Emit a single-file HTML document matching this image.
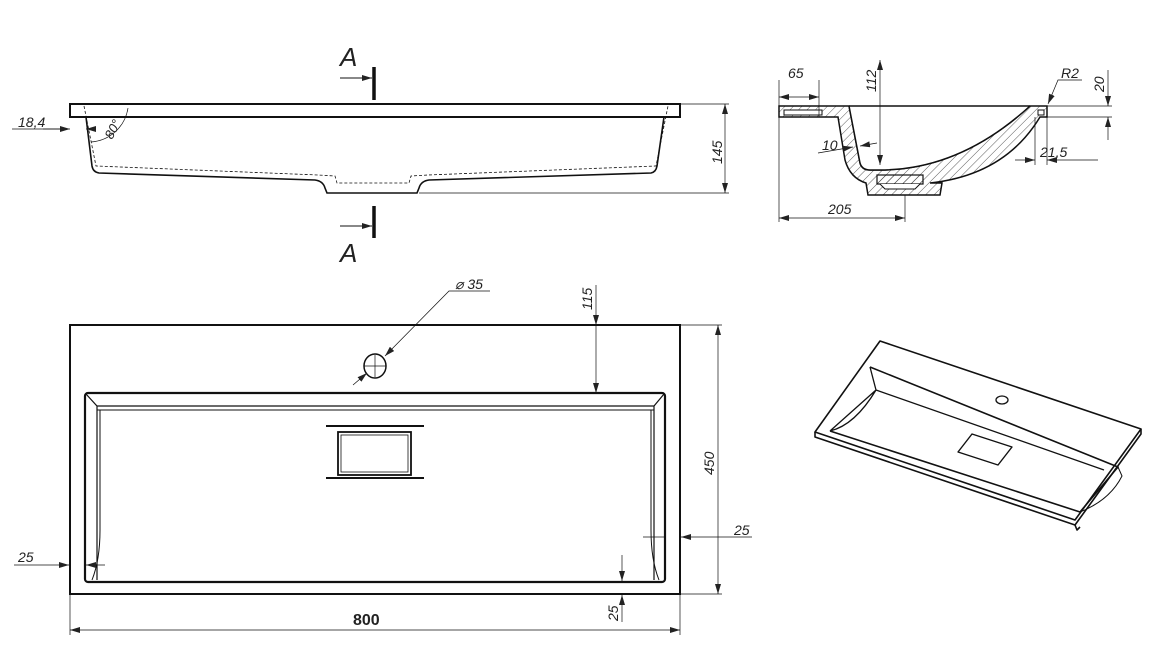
<!DOCTYPE html>
<html><head><meta charset="utf-8"><style>
html,body{margin:0;padding:0;background:#fff;}
svg{display:block;}
text{font-family:"Liberation Sans",sans-serif;font-style:italic;fill:#222;}
</style></head><body>
<svg width="1153" height="651" viewBox="0 0 1153 651" xmlns="http://www.w3.org/2000/svg">
<defs>
<marker id="a" viewBox="0 0 10 6" refX="10" refY="3" markerWidth="10" markerHeight="6" orient="auto-start-reverse" markerUnits="userSpaceOnUse"><path d="M0,0 L10,3 L0,6 z" fill="#222"/></marker>
<pattern id="h" width="6" height="6" patternUnits="userSpaceOnUse" patternTransform="rotate(45)"><line x1="0" y1="0" x2="0" y2="6" stroke="#333" stroke-width="0.8"/></pattern>
</defs>
<g fill="none" stroke="#111">
<rect x="70" y="104" width="610" height="13" stroke-width="2"/>
<path d="M86,117 L92,166 Q93,172 99,173 L315,180 Q323,181 325,188 L327,193 L417,193 L419,188 Q421,181 429,180 L651,173 Q656,172 657,166 L664,117" stroke-width="1.6"/>
<path d="M84,106 L96,166 L318,175 L335,176 L337,183 L409,183 L411,176 L428,175 L656,166 L668,106" stroke-width="0.8" stroke-dasharray="3,2"/>
<line x1="374" y1="67" x2="374" y2="100" stroke-width="3.5"/>
<line x1="340" y1="78" x2="372" y2="78" stroke-width="1" marker-end="url(#a)"/>
<line x1="374" y1="206" x2="374" y2="238" stroke-width="3.5"/>
<line x1="340" y1="226" x2="372" y2="226" stroke-width="1" marker-end="url(#a)"/>
<g stroke-width="0.7">
<line x1="680" y1="104" x2="729" y2="104"/><line x1="419" y1="193" x2="729" y2="193"/>
<line x1="725" y1="104" x2="725" y2="193" marker-start="url(#a)" marker-end="url(#a)"/>
<line x1="12" y1="129" x2="60" y2="129"/>
<line x1="43" y1="129" x2="70" y2="129" marker-end="url(#a)"/>
<line x1="96" y1="129" x2="86" y2="129" marker-end="url(#a)"/>
<path d="M91,142 A40,40 0 0 0 128,108" />
</g>
</g>
<text x="340" y="66" font-size="26">A</text>
<text x="340" y="262" font-size="26">A</text>
<text x="18" y="127" font-size="14">18,4</text>
<text transform="translate(112,140) rotate(-62)" font-size="13">80°</text>
<text transform="translate(722,164) rotate(-90)" font-size="14">145</text>

<g stroke="#111" stroke-width="1.5">
<path d="M779,106 L849,106 L860,163 Q862,170 870,170 L880,170 Q960,170 1030,106 L1047,106 L1047,117 L1040,117 Q1005,175 930,183 L942,183 L940,195 L868,195 L866,183 Q850,178 845,160 L838,117 L779,117 Z" fill="url(#h)"/>
<path d="M849,106 L860,163 Q862,170 870,170 L880,170 Q960,170 1030,106 Z" fill="#fff" stroke="none"/>
<path d="M849,106 L1030,106 M849,106 L860,163 Q862,170 870,170 L880,170 Q960,170 1030,106" fill="none"/>
<rect x="784" y="110" width="38" height="5" fill="#fff" stroke-width="1"/>
<rect x="1038" y="110" width="6" height="5" fill="#fff" stroke-width="1"/>
<rect x="877" y="175" width="46" height="9" fill="url(#h)" stroke-width="1.2"/>
<path d="M880,184 L885,189 L915,189 L920,184" fill="#fff" stroke-width="1"/>
</g>
<g fill="none" stroke="#111" stroke-width="0.7">
<line x1="779" y1="80" x2="779" y2="222"/><line x1="819" y1="80" x2="819" y2="117"/>
<line x1="779" y1="97" x2="819" y2="97" marker-start="url(#a)" marker-end="url(#a)"/>
<line x1="880" y1="60" x2="880" y2="165" marker-start="url(#a)" marker-end="url(#a)"/>
<path d="M1082,80 L1058,80 L1048,104" marker-end="url(#a)"/>
<line x1="1047" y1="106" x2="1112" y2="106"/><line x1="1047" y1="117" x2="1112" y2="117"/>
<line x1="1108" y1="70" x2="1108" y2="106" marker-end="url(#a)"/>
<line x1="1108" y1="140" x2="1108" y2="117" marker-end="url(#a)"/>
<line x1="1035" y1="117" x2="1035" y2="165"/><line x1="1047" y1="117" x2="1047" y2="165"/>
<line x1="1015" y1="160" x2="1035" y2="160" marker-end="url(#a)"/>
<line x1="1098" y1="160" x2="1047" y2="160" marker-end="url(#a)"/>
<line x1="818" y1="153" x2="853" y2="147" marker-end="url(#a)"/>
<line x1="877" y1="143" x2="860" y2="146" marker-end="url(#a)"/>
<line x1="905" y1="195" x2="905" y2="222"/>
<line x1="779" y1="218" x2="905" y2="218" marker-start="url(#a)" marker-end="url(#a)"/>
</g>
<text x="788" y="78" font-size="14">65</text>
<text transform="translate(876,92) rotate(-90)" font-size="14">112</text>
<text x="1061" y="78" font-size="14">R2</text>
<text transform="translate(1104,92) rotate(-90)" font-size="14">20</text>
<text x="1040" y="157" font-size="14">21,5</text>
<text x="822" y="150" font-size="14">10</text>
<text x="828" y="214" font-size="14">205</text>

<g fill="none" stroke="#111">
<rect x="70" y="325" width="610" height="269" stroke-width="2"/>
<rect x="85" y="393" width="580" height="189" rx="3" stroke-width="2.2"/>
<path d="M86,394 L97,406 L654,406 L664,394 M97,406 L97,580 M654,406 L654,580" stroke-width="1.2"/>
<line x1="97" y1="410" x2="654" y2="410" stroke-width="1"/>
<path d="M100,410 L100,530 Q100,560 92,580 M651,410 L651,530 Q651,560 659,580" stroke-width="1"/>
<rect x="338" y="432" width="73" height="43" stroke-width="1.8"/>
<rect x="341" y="435" width="67" height="37" stroke-width="0.8"/>
<line x1="326" y1="426" x2="424" y2="426" stroke-width="2"/>
<line x1="326" y1="478" x2="424" y2="478" stroke-width="2"/>
<ellipse cx="375" cy="366" rx="11" ry="12" stroke-width="1.5"/>
</g>
<g fill="none" stroke="#111" stroke-width="0.7">
<line x1="364" y1="366" x2="386" y2="366"/><line x1="375" y1="355" x2="375" y2="377"/>
<path d="M490,291 L449,291 L385,356" marker-end="url(#a)"/>
<line x1="353" y1="385" x2="367" y2="373" marker-end="url(#a)"/>
<line x1="596" y1="285" x2="596" y2="325" marker-end="url(#a)"/>
<line x1="596" y1="325" x2="596" y2="393" marker-end="url(#a)"/>
<line x1="680" y1="325" x2="722" y2="325"/><line x1="680" y1="594" x2="722" y2="594"/>
<line x1="718" y1="325" x2="718" y2="594" marker-start="url(#a)" marker-end="url(#a)"/>
<line x1="643" y1="537" x2="665" y2="537"/>
<line x1="752" y1="537" x2="681" y2="537" marker-end="url(#a)"/>
<line x1="14" y1="565" x2="69" y2="565" marker-end="url(#a)"/>
<line x1="105" y1="565" x2="86" y2="565" marker-end="url(#a)"/>
<line x1="622" y1="555" x2="622" y2="581" marker-end="url(#a)"/>
<line x1="622" y1="622" x2="622" y2="595" marker-end="url(#a)"/>
<line x1="70" y1="594" x2="70" y2="635"/><line x1="680" y1="594" x2="680" y2="635"/>
<line x1="70" y1="630" x2="680" y2="630" marker-start="url(#a)" marker-end="url(#a)"/>
</g>
<text x="455" y="289" font-size="14">⌀ 35</text>
<text transform="translate(592,310) rotate(-90)" font-size="14">115</text>
<text transform="translate(714,475) rotate(-90)" font-size="14">450</text>
<text x="734" y="535" font-size="14">25</text>
<text x="18" y="562" font-size="14">25</text>
<text transform="translate(618,621) rotate(-90)" font-size="14">25</text>
<text x="353" y="625" font-size="16" font-weight="bold" style="font-style:normal">800</text>

<g fill="none" stroke="#111" stroke-width="1.6" stroke-linejoin="round">
<path d="M880,341 L1141,429 L1075,520 L815,432 Z"/>
<path d="M815,432 L815,437 L1075,525 L1141,434 L1141,429"/>
<path d="M1075,525 L1077,530 L1080,527"/>
<path d="M870,367 L1118,467 L1080,512 L830,431"/>
<path d="M876,390 L1104,470 M870,367 L876,390 L830,431 M876,390 Q855,425 830,431" stroke-width="1.3"/>
<path d="M1118,467 L1122,476 Q1110,500 1080,512" stroke-width="1"/>
<path d="M972,434 L1012,447 L998,465 L958,452 Z" stroke-width="1.4"/>
<ellipse cx="1002" cy="400" rx="6" ry="4" stroke-width="1.3"/>
</g>
</svg>
</body></html>
